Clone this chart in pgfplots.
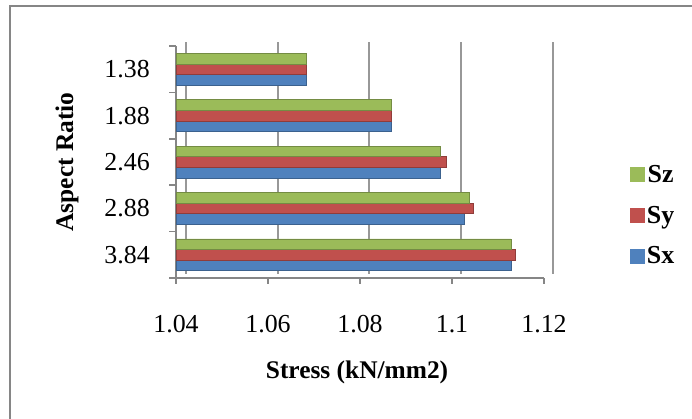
\documentclass[border=0pt]{standalone}
\usepackage{fontspec}
\setmainfont{Liberation Serif}
\usepackage{pgfplots}
\pgfplotsset{compat=1.18}
\definecolor{sxc}{HTML}{4F81BD}
\definecolor{syc}{HTML}{C0504D}
\definecolor{szc}{HTML}{9BBB59}
\definecolor{axc}{HTML}{868686}
\begin{document}
\begin{tikzpicture}
\useasboundingbox (0bp,0bp) rectangle (692bp,419bp);
\draw[axc, line width=2bp] (693bp,413bp) -- (10bp,413bp) -- (10bp,-1bp);
\begin{axis}[
  at={(176bp,141bp)}, anchor=south west,
  scale only axis, width=368bp, height=232bp,
  xbar=0pt, bar width=10.6bp,
  xmin=1.04, xmax=1.12, ymin=-0.5, ymax=4.5,
  xtick={1.04,1.06,1.08,1.1,1.12},
  xticklabels={1.04,1.06,1.08,1.1,1.12},
  ytick={0,1,2,3,4},
  yticklabels={3.84,2.88,2.46,1.88,1.38},
  minor ytick={-0.5,0.5,1.5,2.5,3.5,4.5},
  tick align=outside, major tick length=6bp, minor tick length=7bp,
  major y tick style={draw=none},
  minor y tick style={axc, line width=1.5bp},
  major x tick style={axc, line width=1.5bp},
  axis x line*=bottom, axis y line*=left,
  axis line style={axc, line width=1.5bp},
  xmajorgrids,
  major x grid style={axc!85, line width=2bp, xshift=9.5bp, yshift=4bp},
  /pgf/number format/assume math mode=true,
  tick label style={font=\fontsize{26}{30}\selectfont},
  xticklabel style={anchor=center, yshift=-40bp},
  yticklabel style={anchor=east, inner sep=0pt, xshift=-20bp},
  xlabel={Stress (kN/mm2)},
  ylabel={Aspect Ratio},
  label style={font=\fontsize{25.5}{30}\selectfont\bfseries},
  xlabel style={at={(axis description cs:0.492,-0.409)}, anchor=center},
  ylabel style={at={(axis description cs:-0.296,0.5)}, anchor=center},
  reverse legend,
  legend style={at={(axis description cs:1.226,0.27)}, anchor=west,
    draw=none, fill=none, font=\fontsize{26}{30}\selectfont\bfseries,
    row sep=18bp, nodes={inner sep=2bp}},
]
\addplot[fill=sxc, draw=sxc!75!black, line width=0.6bp, legend image code/.code={\fill[sxc] (0bp,-7bp) rectangle (14bp,7bp);}]
  coordinates {(1.1128,0) (1.1027,1) (1.0975,2) (1.0867,3) (1.0684,4)};
\addlegendentry{Sx}
\addplot[fill=syc, draw=syc!75!black, line width=0.6bp, legend image code/.code={\fill[syc] (0bp,-7bp) rectangle (14bp,7bp);}]
  coordinates {(1.1137,0) (1.1046,1) (1.0987,2) (1.0867,3) (1.0684,4)};
\addlegendentry{Sy}
\addplot[fill=szc, draw=szc!75!black, line width=0.6bp, legend image code/.code={\fill[szc] (0bp,-7bp) rectangle (14bp,7bp);}]
  coordinates {(1.1128,0) (1.1037,1) (1.0975,2) (1.0867,3) (1.0684,4)};
\addlegendentry{Sz}
\end{axis}
\end{tikzpicture}
\end{document}
